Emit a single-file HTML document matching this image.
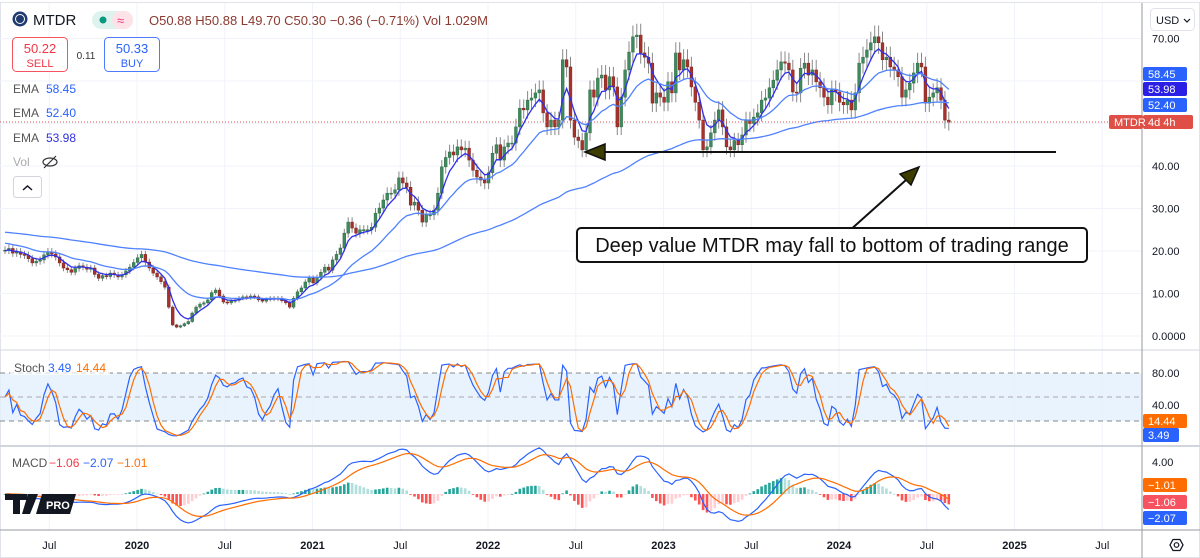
<!DOCTYPE html>
<html><head><meta charset="utf-8">
<style>
html,body{margin:0;padding:0;background:#fff;}
svg{display:block;font-family:"Liberation Sans",sans-serif;}
</style></head>
<body>
<svg id="chart" width="1200" height="558" viewBox="0 0 1200 558" xmlns="http://www.w3.org/2000/svg">
<rect x="0" y="0" width="1200" height="558" fill="#fff"/>
<rect x="0.5" y="2.5" width="1199" height="555" fill="none" stroke="#e0e3eb"/>
<g id="grid"></g>
<rect x="0" y="373" width="1142" height="48" fill="#e3f0fd" opacity="0.8"/>
<line x1="0" y1="373" x2="1142" y2="373" stroke="#888" stroke-dasharray="5,4"/>
<line x1="0" y1="397" x2="1142" y2="397" stroke="#aaa" stroke-dasharray="5,4"/>
<line x1="0" y1="421" x2="1142" y2="421" stroke="#888" stroke-dasharray="5,4"/>
<g id="marks"></g>
<line x1="0" y1="122" x2="1108" y2="122" stroke="#e0524a" stroke-dasharray="1,2"/>
<line x1="0" y1="350" x2="1200" y2="350" stroke="#d1d4dc"/>
<line x1="0" y1="446" x2="1200" y2="446" stroke="#d1d4dc" stroke-width="2"/>
<line x1="0" y1="530" x2="1200" y2="530" stroke="#9598a1"/>
<line x1="1142" y1="3" x2="1142" y2="558" stroke="#9598a1"/>
<line x1="600" y1="152" x2="1056" y2="152" stroke="#111" stroke-width="2"/>
<polygon points="585,152 605,144 605,160" fill="#3d3d00" stroke="#111" stroke-width="1.5"/>
<line x1="848" y1="232" x2="906" y2="180" stroke="#111" stroke-width="2"/>
<polygon points="919,167 900,174 911,185" fill="#3d3d00" stroke="#111" stroke-width="1.5"/>
<rect x="577" y="228" width="510" height="34" rx="4" fill="#fff" stroke="#111" stroke-width="2"/>
<text x="832" y="252" font-size="20" text-anchor="middle" fill="#111">Deep value MTDR may fall to bottom of trading range</text>
<circle cx="20" cy="19" r="7.5" fill="#1e3a6e"/>
<circle cx="20" cy="19" r="4.5" fill="none" stroke="#fff" stroke-width="1"/>
<text x="33" y="25" font-size="15" fill="#131722">MTDR</text>
<rect x="92" y="11" width="41" height="18" rx="9" fill="#dff3ee"/>
<rect x="112" y="11" width="21" height="18" rx="9" fill="#fde2e8"/>
<circle cx="103" cy="20" r="3.5" fill="#089981"/>
<text x="117" y="25" font-size="13" fill="#f23673">≈</text>
<text x="149" y="25" font-size="13" fill="#8b3a30">O50.88  H50.88  L49.70  C50.30  −0.36 (−0.71%)  Vol 1.029M</text>
<rect x="12.5" y="37.5" width="55" height="34" rx="4" fill="#fff" stroke="#f7525f"/>
<text x="40" y="53" font-size="13" fill="#f23645" text-anchor="middle">50.22</text>
<text x="40" y="67" font-size="11" fill="#f23645" text-anchor="middle">SELL</text>
<text x="86" y="59" font-size="10" fill="#333" text-anchor="middle">0.11</text>
<rect x="104.5" y="37.5" width="55" height="34" rx="4" fill="#fff" stroke="#4d7bff"/>
<text x="132" y="53" font-size="13" fill="#2962ff" text-anchor="middle">50.33</text>
<text x="132" y="67" font-size="11" fill="#2962ff" text-anchor="middle">BUY</text>
<text x="13" y="93" font-size="12" fill="#555">EMA</text>
<text x="46" y="93" font-size="12" fill="#2962ff">58.45</text>
<text x="13" y="117" font-size="12" fill="#555">EMA</text>
<text x="46" y="117" font-size="12" fill="#2962ff">52.40</text>
<text x="13" y="142" font-size="12" fill="#555">EMA</text>
<text x="46" y="142" font-size="12" fill="#3030e0">53.98</text>
<text x="13" y="166" font-size="12" fill="#aaa">Vol</text>
<g><ellipse cx="50" cy="162" rx="7" ry="4" fill="none" stroke="#333" stroke-width="1.2"/><line x1="44" y1="168" x2="56" y2="156" stroke="#333" stroke-width="1.2"/></g>
<rect x="13.5" y="176.5" width="28" height="21" rx="3" fill="#fff" stroke="#d1d4dc"/>
<polyline points="23,190 27.5,186 32,190" fill="none" stroke="#131722" stroke-width="1.5"/>
<rect x="10" y="360" width="100" height="15" fill="#fff" opacity="0.7"/>
<text x="14" y="372" font-size="12" fill="#555">Stoch</text>
<text x="48" y="372" font-size="12" fill="#2962ff">3.49</text>
<text x="76" y="372" font-size="12" fill="#ff6d00">14.44</text>
<text x="12" y="467" font-size="12" fill="#555">MACD</text>
<text x="49" y="467" font-size="12" fill="#f23645">−1.06</text>
<text x="83" y="467" font-size="12" fill="#2962ff">−2.07</text>
<text x="117" y="467" font-size="12" fill="#ff6d00">−1.01</text>
<g>
<rect x="5" y="494" width="22" height="6" fill="#131722"/><rect x="13" y="494" width="7" height="20" fill="#131722"/>
<polygon points="28,494 38,494 30,514 22,514" fill="#131722"/>
<polygon points="42,494 76,494 70,514 36,514" fill="#131722"/>
<text x="46" y="509" font-size="11" font-weight="bold" fill="#fff">PRO</text>
</g>
<rect x="1150.5" y="8.5" width="44" height="22" rx="4" fill="#fff" stroke="#e0e3eb"/>
<text x="1156" y="24" font-size="11" fill="#131722">USD</text>
<polyline points="1184,19 1187,22 1190,19" fill="none" stroke="#131722" stroke-width="1.2"/>
<g id="axis"></g>
<g><polygon points="1170,545 1173,539.5 1180,539.5 1183,545 1180,550.5 1173,550.5" fill="none" stroke="#131722" stroke-width="1.3"/><circle cx="1176.5" cy="545" r="2.3" fill="none" stroke="#131722" stroke-width="1.2"/></g>
</svg>
<script>
const closes = [20.2,20.6,19.5,19.8,19.2,19,18.2,17.2,17.6,17.9,19.1,19.8,19.3,18.6,17.2,16,15.6,15,15.9,16.5,16.2,15.7,16,14.5,13.6,14.2,14,14.8,14.4,13.9,14.4,15.3,16.2,17.3,18.4,19.2,17.4,16,14.8,13.9,12.8,11.5,6.8,2.6,2.1,2.4,2.9,3.4,5.4,6.8,7.5,7.8,8.5,10.2,10.8,9.4,8,7.8,8.2,8.4,8.9,9.2,9,9.4,9.2,8.5,8.2,8.6,8.9,8.7,8.9,8.3,7.8,6.8,8.9,10.4,11.3,12.7,13.6,12.5,13.8,15,16.2,15.5,17.9,19.2,20.7,
24.2,26.8,25.4,24.2,25,25,25,25.6,28.9,30.1,32,33.6,33.6,34.4,37.2,36,35,30.8,31.5,29.6,26.8,28.5,28.5,29.6,33.6,39.8,42,43.3,42.6,44.5,43.8,44.2,41.4,39,37.4,36.7,36,38.4,43,45,41.4,44.5,45.4,45.4,49.2,53.6,53.2,55.5,56,57.2,57.9,52.5,49.2,50.8,49.2,50.8,65,63.3,50.8,46.8,46,43.8,47.8,57.9,56.2,60.7,61.4,57.9,61,58.6,49.2,56.2,62.6,66.8,70.4,70.8,66.6,
65.6,64.2,54.8,57.2,56.2,55,59.8,57.2,66.6,62.6,65,63.3,58.6,55,50.8,43.8,44.5,47.8,50.8,53.2,49.2,44.5,43.8,46,45,47.3,50.8,50,51.5,52.5,55.5,56,58.4,60.2,62.6,64.5,64.2,62.6,57.4,57.2,63,64.2,61.4,62.6,59.8,58.4,56.2,54.4,57.9,57.4,55,54.4,55.5,53.2,57.2,64.2,65.6,67.3,69,70.4,69,65,65.6,63.3,62.6,61,56.2,57.9,59.5,61.9,64.2,63.3,54.8,56.2,57.2,58.4,55.5,50.8,50.3];
const priceTicks = [0,10,20,30,40,70];
const priceTickLabels = ["0.0000","10.00","20.00","30.00","40.00","70.00"];
const stochTicks = [80,40];
const macdTicks = [4];
const timeLabels = ["Jul","2020","Jul","2021","Jul","2022","Jul","2023","Jul","2024","Jul","2025","Jul"];
const timeYears = [2019.5,2020,2020.5,2021,2021.5,2022,2022.5,2023,2023.5,2024,2024.5,2025,2025.5];
const emaPeriods = [5,20,100];
const emaSeeds = [20,22,24.5];

const NS="http://www.w3.org/2000/svg";
const X0=5, STEP=3.9;
const xi=i=>X0+i*STEP;
const yP=p=>336-4.25*p;
const yS=v=>437-0.8*v;
const yM=v=>494-8*v;
const xT=t=>137+175.5*(t-2020);
function mk(tag,attrs,parent){const e=document.createElementNS(NS,tag);for(const k in attrs)e.setAttribute(k,attrs[k]);parent.appendChild(e);return e;}
const grid=document.getElementById('grid'), marks=document.getElementById('marks'), axis=document.getElementById('axis');

[0,10,20,30,40,50,60,70].forEach(p=>{const l=mk('line',{x1:0,x2:1142,y1:yP(p),y2:yP(p),stroke:'#f0f3fa'},grid);

});
timeYears.forEach(t=>{const l=mk('line',{x1:xT(t),x2:xT(t),y1:3,y2:530,stroke:'#f0f3fa'},grid);

});

const N=closes.length;
const opens=closes.map((c,i)=>i?closes[i-1]:c);
const highs=closes.map((c,i)=>Math.max(c,opens[i])*1.035+0.2);
const lows=closes.map((c,i)=>Math.min(c,opens[i])*0.965-0.2);
function ema(a,n,seed){const k=2/(n+1);let v=seed;return a.map(x=>(v=x*k+v*(1-k)));}
function sma(a,n){return a.map((x,i)=>{let s=0,c=0;for(let j=Math.max(0,i-n+1);j<=i;j++){s+=a[j];c++;}return s/c;});}

const defs=mk('defs',{},marks);
const cp=mk('clipPath',{id:'mainclip'},defs);mk('rect',{x:0,y:3,width:1142,height:346},cp);
const main=mk('g',{'clip-path':'url(#mainclip)'},marks);



closes.forEach((c,i)=>{const o=opens[i],up=c>=o,col=up?'#3f8a5c':'#a8322b';const x=xi(i);
const w=mk('line',{x1:x,x2:x,y1:yP(highs[i]),y2:yP(lows[i]),stroke:'#888','stroke-width':1},main);


const top=yP(Math.max(o,c)),h=Math.max(1,yP(Math.min(o,c))-top);
const b=mk('rect',{x:x-1.4,y:top,width:2.8,height:h,fill:col,stroke:up?'#2f6a46':'#7d231d','stroke-width':0.5},main);

});

const emaColors=['#2f2fe8','#4f82ff','#4f82ff'];
emaPeriods.forEach((n,k)=>{const e=ema(closes,n,emaSeeds[k]);
const p=mk('polyline',{points:e.map((v,i)=>xi(i)+','+yP(v)).join(' '),fill:'none',stroke:emaColors[k],'stroke-width':1.3},main);

});

const rawK=closes.map((c,i)=>{let hh=-1e9,ll=1e9;for(let j=Math.max(0,i-13);j<=i;j++){hh=Math.max(hh,highs[j]);ll=Math.min(ll,lows[j]);}return 100*(c-ll)/(hh-ll||1);});
const K=sma(rawK,1), D=sma(K,3);
[[K,'#2962ff','stoch-k-line'],[D,'#ff6d00','stoch-d-line']].forEach(([a,col,nm])=>{
const p=mk('polyline',{points:a.map((v,i)=>xi(i)+','+yS(v)).join(' '),fill:'none',stroke:col,'stroke-width':1.2},marks);

});

const e12=ema(closes,12,closes[0]),e26=ema(closes,26,closes[0]);
const macd=e12.map((v,i)=>v-e26[i]);const sig=ema(macd,9,0);const hist=macd.map((v,i)=>v-sig[i]);
hist.forEach((h,i)=>{const prev=i?hist[i-1]:h;let col;
if(h>=0)col=h>=prev?'#26a69a':'#b2dfdb';else col=h<prev?'#ff5252':'#ffcdd2';
const y0=yM(0),y1=yM(h);
const r=mk('rect',{x:xi(i)-1.3,y:Math.min(y0,y1),width:2.6,height:Math.max(0.8,Math.abs(y1-y0)),fill:col},marks);

});
[[macd,'#2962ff','macd-line'],[sig,'#ff6d00','macd-signal-line']].forEach(([a,col,nm])=>{
const p=mk('polyline',{points:a.map((v,i)=>xi(i)+','+yM(v)).join(' '),fill:'none',stroke:col,'stroke-width':1.2},marks);

});

priceTicks.forEach((p,k)=>{const t=mk('text',{x:1152,y:yP(p)+4,'font-size':11,fill:'#131722'},axis);t.textContent=priceTickLabels[k];

});
stochTicks.forEach(v=>{const t=mk('text',{x:1152,y:yS(v)+4,'font-size':11,fill:'#131722'},axis);t.textContent=v.toFixed(2);

});
macdTicks.forEach(v=>{const t=mk('text',{x:1152,y:yM(v)+4,'font-size':11,fill:'#131722'},axis);t.textContent=v.toFixed(2);

});
timeLabels.forEach((s,k)=>{const t=mk('text',{x:xT(timeYears[k]),y:549,'font-size':11,'text-anchor':'middle',fill:'#131722','font-weight':s==='Jul'?'normal':'bold'},axis);t.textContent=s;

});

function badge(y,txt,bg,name,x0,w){const r=mk('rect',{x:x0,y:y-7,width:w,height:14,rx:2,fill:bg},axis);


const t=mk('text',{x:x0+5,y:y+4,'font-size':11,fill:'#fff'},axis);t.textContent=txt;

}
badge(74,'58.45','#2962ff','ema-20-badge',1143,44);
badge(89,'53.98','#2b1fe6','ema-5-badge',1143,44);
badge(105,'52.40','#2962ff','ema-100-badge',1143,44);
badge(122,'4d 4h','#df4f45','countdown-badge',1143,50);
badge(122,'MTDR','#df4f45','symbol-badge',1109,34);
badge(421,'14.44','#ff6d00','stoch-d-badge',1143,44);
badge(435,'3.49','#2962ff','stoch-k-badge',1143,36);
badge(485,'−1.01','#ff6d00','macd-signal-badge',1143,44);
badge(502,'−1.06','#f7525f','macd-hist-badge',1143,44);
badge(518,'−2.07','#2962ff','macd-line-badge',1143,44);
</script>
</body></html>
